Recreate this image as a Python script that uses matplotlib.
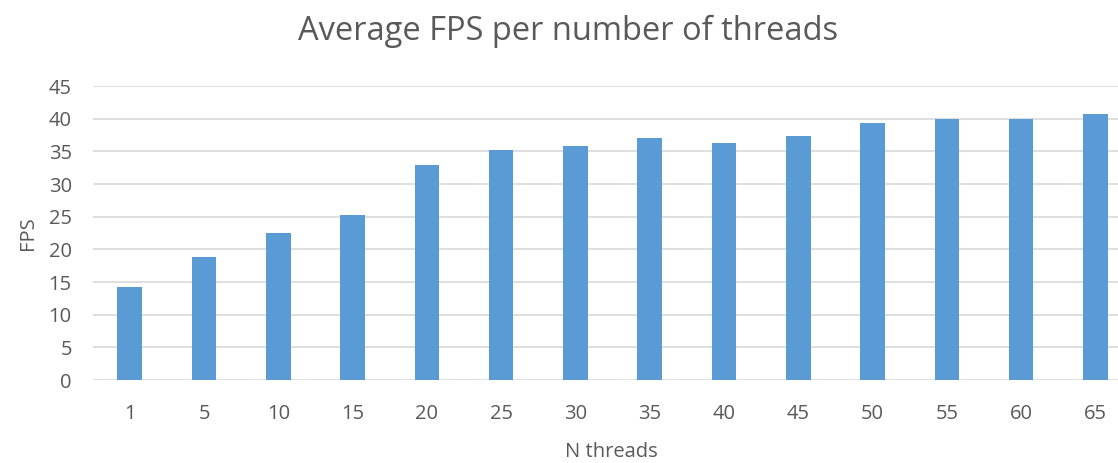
import numpy as np
import matplotlib.pyplot as plt

threads = ['1', '5', '10', '15', '20', '25', '30', '35', '40', '45', '50', '55', '60', '65']
fps = [14.2, 18.9, 22.45, 25.3, 32.9, 35.2, 35.8, 37.1, 36.2, 37.4, 39.4, 40.0, 40.0, 40.65]

txt = '#595959'
plt.rcParams['font.family'] = ['Open Sans', 'DejaVu Sans']

fig = plt.figure(figsize=(11.18, 4.63), dpi=100)
ax = fig.add_axes([92.6 / 1118, 83 / 463, 1040 / 1118, 294 / 463])

x = np.arange(len(threads))
ax.bar(x, fps, width=0.33, color='#5B9BD5', zorder=3)

ax.set_xlim(-0.5, len(threads) - 0.5)
ax.set_ylim(0, 45)
ax.set_yticks(np.arange(0, 46, 5))
ax.set_xticks(x)
ax.set_xticklabels(threads)
ax.yaxis.grid(True, color='#D9D9D9', linewidth=1.2, zorder=0)
ax.set_axisbelow(True)
for s in ax.spines.values():
    s.set_visible(False)
ax.tick_params(axis='both', length=0, labelsize=14.5, colors=txt)
ax.tick_params(axis='x', pad=17)
ax.tick_params(axis='y', pad=15)

ax.set_ylabel('FPS', fontsize=14.5, color=txt, labelpad=8)
# x label placed in figure coords so it stays inside the canvas
fig.text(611 / 1118, 1 - 452 / 463, 'N threads', ha='center', va='center',
         fontsize=14.5, color=txt)
fig.text(0.508, 0.933, 'Average FPS per number of threads', ha='center', va='center',
         fontsize=23.5, color=txt)

fig.savefig('out.png', dpi=100)
